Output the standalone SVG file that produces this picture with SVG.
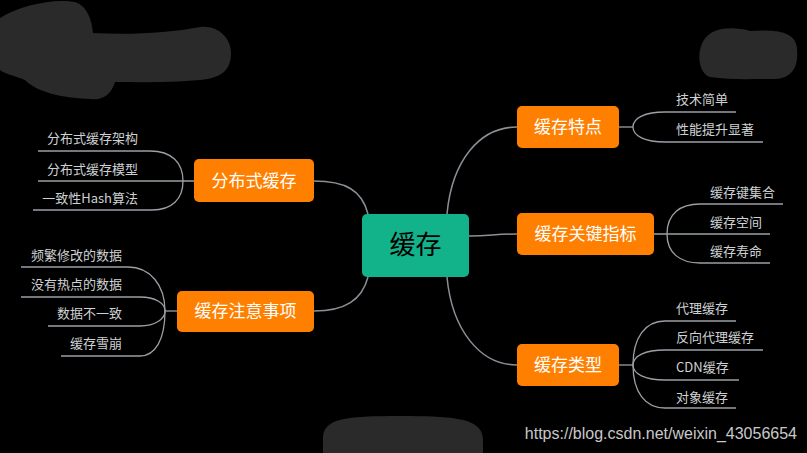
<svg xmlns="http://www.w3.org/2000/svg" width="807" height="453" viewBox="0 0 807 453">
<style>
.leaf{font-family:"Noto Sans CJK SC","Liberation Sans",sans-serif;font-size:13px;fill:#cfd2d4}
.nt{font-family:"Noto Sans CJK SC","Liberation Sans",sans-serif;font-size:17px;fill:#ffffff}
.box{fill:#ff8000}
.c{fill:none;stroke:#8a9096;stroke-width:1.5}
.l{fill:none;stroke:#9aa0a5;stroke-width:1.3}
.blob{fill:#2a2a2a}
</style>
<rect width="807" height="453" fill="#000"/>
<g id="redactions">
<path class="blob" d="M0,18 C20,5 55,-2 75,2 C88,6 92,22 93,33 C130,35 170,33 200,27 C220,25 232,40 231,55 C230,70 222,78 200,80 C170,83 140,82 115,82 C112,92 105,101 90,99 C70,98 40,95 25,80 C15,76 3,73 0,70 Z"/>
<path class="blob" d="M715,31 C725,27 740,28 750,31 C770,30 795,29 797,48 C799,70 790,80 770,79 C750,79 730,80 710,77 C695,72 695,38 715,31 Z"/>
<path class="blob" d="M323,440 C322,418 345,416 400,416 C455,416 483,418 483,440 L483,453 L323,453 Z"/>
</g>
<g id="connectors">
<path class="c" d="M314,181 C345,181 362,190 368,214"/>
<path class="c" d="M314,311 C345,311 362,300 368,277"/>
<path class="c" d="M447,214 C452,160 480,127 517,127"/>
<path class="c" d="M469,236 C490,236 495,234 517,234"/>
<path class="c" d="M447,277 C452,330 480,365 517,365"/>
<path class="l" d="M194,181 H38"/>
<path class="l" d="M183,181 C183,163 172,151 150,151 H38"/>
<path class="l" d="M183,181 C183,199 172,210 152,210 H33"/>
<path class="l" d="M177,311 H165"/>
<path class="l" d="M165,311 C165,285 150,267 128,267 H21"/>
<path class="l" d="M165,311 C165,303 155,297 140,297 H21"/>
<path class="l" d="M165,311 C165,319 155,326 140,326 H48"/>
<path class="l" d="M165,311 C165,340 155,356 140,356 H61"/>
<path class="l" d="M619,127 H633"/>
<path class="l" d="M633,127 C633,118 645,112 665,112 H736"/>
<path class="l" d="M633,127 C633,136 645,142 665,142 H763"/>
<path class="l" d="M654,234 H770"/>
<path class="l" d="M667,234 C667,214 680,204 700,204 H783"/>
<path class="l" d="M667,234 C667,253 680,263 700,263 H770"/>
<path class="l" d="M619,365 H633"/>
<path class="l" d="M633,365 C633,338 645,321 665,321 H736"/>
<path class="l" d="M633,365 C633,356 645,350 665,350 H763"/>
<path class="l" d="M633,365 C633,374 645,380 665,380 H739"/>
<path class="l" d="M633,365 C633,392 645,408 665,408 H736"/>
</g>
<g id="center">
<rect x="362" y="214" width="107" height="63" rx="5" fill="#12b28a"/>
<text x="415.5" y="254" text-anchor="middle" font-family="Noto Sans CJK SC,sans-serif" font-size="26" fill="#000">缓存</text>
</g>
<g id="n-fbs">
<rect class="box" x="194" y="159" width="120" height="43" rx="5"/>
<text class="nt" x="254" y="187" text-anchor="middle">分布式缓存</text>
</g>
<g id="n-zysx">
<rect class="box" x="177" y="291" width="137" height="41" rx="5"/>
<text class="nt" x="245.5" y="317" text-anchor="middle">缓存注意事项</text>
</g>
<g id="n-td">
<rect class="box" x="517" y="106" width="102" height="42" rx="5"/>
<text class="nt" x="568" y="133" text-anchor="middle">缓存特点</text>
</g>
<g id="n-zb">
<rect class="box" x="517" y="213" width="137" height="42" rx="5"/>
<text class="nt" x="585.5" y="240" text-anchor="middle">缓存关键指标</text>
</g>
<g id="n-lx">
<rect class="box" x="517" y="344" width="102" height="42" rx="5"/>
<text class="nt" x="568" y="371" text-anchor="middle">缓存类型</text>
</g>
<g id="leaves">
<text class="leaf" x="138" y="143" text-anchor="end">分布式缓存架构</text>
<text class="leaf" x="138" y="174" text-anchor="end">分布式缓存模型</text>
<text class="leaf" x="138" y="203" text-anchor="end">一致性Hash算法</text>
<text class="leaf" x="122" y="260" text-anchor="end">频繁修改的数据</text>
<text class="leaf" x="122" y="289" text-anchor="end">没有热点的数据</text>
<text class="leaf" x="122" y="318" text-anchor="end">数据不一致</text>
<text class="leaf" x="122" y="348" text-anchor="end">缓存雪崩</text>
<text class="leaf" x="676" y="104">技术简单</text>
<text class="leaf" x="676" y="134">性能提升显著</text>
<text class="leaf" x="710" y="197">缓存键集合</text>
<text class="leaf" x="710" y="227">缓存空间</text>
<text class="leaf" x="710" y="256">缓存寿命</text>
<text class="leaf" x="676" y="313">代理缓存</text>
<text class="leaf" x="676" y="342">反向代理缓存</text>
<text class="leaf" x="676" y="372">CDN缓存</text>
<text class="leaf" x="676" y="402">对象缓存</text>
</g>
<text x="797" y="439" text-anchor="end" font-family="Liberation Sans,Arial,sans-serif" font-size="16" fill="#c8c8c8">https://blog.csdn.net/weixin_43056654</text>
</svg>
